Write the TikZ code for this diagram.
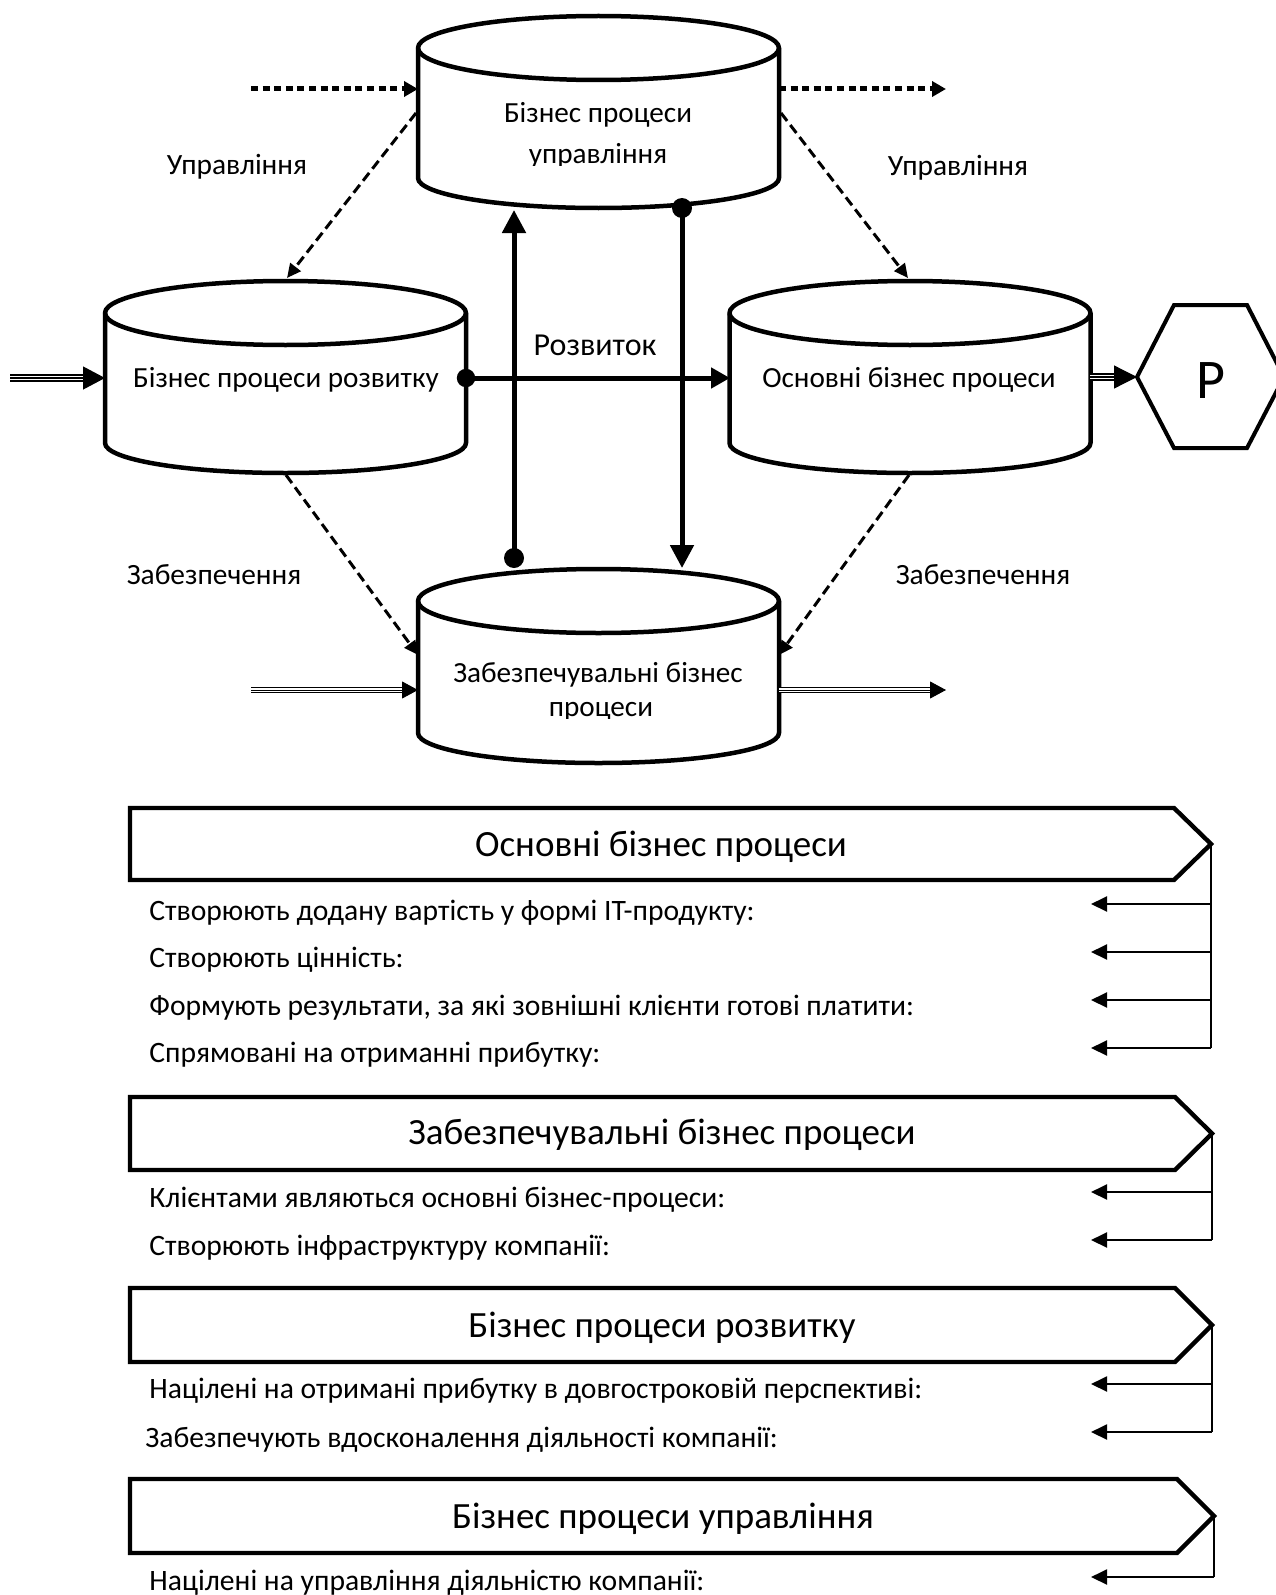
\documentclass[tikz,border=0pt]{standalone}
\usepackage{fontspec}
\setmainfont{Carlito}
\usetikzlibrary{arrows.meta}
\newcommand\cylshape[3]{%
  \filldraw[cyl] ({#1-180.5},#3) -- ({#1-180.5},#2) arc[start angle=180,end angle=0,x radius=90.25pt,y radius=16pt] -- ({#1+180.5},#3) arc[start angle=0,end angle=-180,x radius=90.25pt,y radius=15pt] -- cycle;
  \draw[cyl,fill=none] ({#1-180.5},#2) arc[start angle=180,end angle=360,x radius=90.25pt,y radius=16pt];
}
\newcommand\bannershape[4]{% name, top, bottom, tipx
  \draw[bannerline] (130,#2) -- ({#4-37},#2) -- (#4,{(#2+#3)/2}) -- ({#4-37},#3) -- (130,#3) -- cycle;
  \coordinate (#1tip) at (#4,{(#2+#3)/2});
}
\newcommand\itemarrow[3]{% name, y, tipx
  \coordinate (#1s) at (#3,#2);
  \coordinate (#1e) at (1091,#2);
  \draw[itemarr] (#1s) -- (#1e);
}
\begin{document}
\begin{tikzpicture}[x=0.5pt,y=-0.5pt,
  cyl/.style={draw=black, fill=white, line width=2.25pt, line join=round},
  cyltext/.style={font=\fontsize{14.6}{17}\selectfont, anchor=base, inner sep=0pt},
  lbl/.style={font=\fontsize{14.7}{17}\selectfont, anchor=base, inner sep=0pt},
  titletext/.style={font=\fontsize{18.5}{21}\selectfont, anchor=base, inner sep=0pt},
  itemtext/.style={font=\fontsize{14.8}{17}\selectfont, anchor=base west, inner sep=0pt},
  dotline/.style={line width=2.5pt, dash pattern=on 3.5pt off 2.3pt, -{Triangle[length=7pt,width=7.5pt]}},
  dashline/.style={line width=1.5pt, dash pattern=on 5pt off 2.6pt, -{Triangle[length=7pt,width=6.5pt]}},
  thickline/.style={line width=2.5pt},
  triouter/.style={double=white, double distance=2.4pt, line width=0.6pt},
  tricenter/.style={line width=0.6pt},
  thinouter/.style={double=white, double distance=1.8pt, line width=0.5pt},
  thincenter/.style={line width=0.45pt},
  bannerline/.style={draw=black, line width=2.2pt, line join=miter},
  itemarr/.style={line width=1pt, -{Triangle[length=8pt,width=7.5pt]}},
  vline/.style={line width=0.65pt},
  hexline/.style={draw=black, line width=2pt, line join=miter},
  dotmark/.style={fill=black}
]
\useasboundingbox (0,0) rectangle (1275,1595);
\fill[white] (0,0) rectangle (1275,1595);

% ---------- cylinders ----------
\cylshape{598.5}{48}{178}
\cylshape{285.5}{313}{443}
\cylshape{910}{313}{443}
\cylshape{598.5}{601}{733}

\node[cyltext] (Tt1) at (598,123) {Бізнес процеси};
\begin{scope}
  \clip (420,130) rectangle (777,165);
  \node[cyltext] (Tt2) at (598,163) {управління};
\end{scope}
\node[cyltext] (Lt) at (286,387) {Бізнес процеси розвитку};
\node[cyltext] (Rt) at (909,387) {Основні бізнес процеси};
\node[cyltext] (Bt1) at (598,682) {Забезпечувальні бізнес};
\begin{scope}
  \clip (420,690) rectangle (777,718);
  \node[cyltext] (Bt2) at (601,716) {процеси};
\end{scope}

% ---------- labels ----------
\node[lbl] (u1) at (237,175) {Управління};
\node[lbl] (u2) at (958,176) {Управління};
\node[lbl] (z1) at (214,584) {Забезпечення};
\node[lbl] (z2) at (983,584) {Забезпечення};
\node[lbl, font=\fontsize{16}{19}\selectfont] (rz) at (595,355) {Розвиток};

% ---------- hexagon ----------
\draw[hexline] (1137,377) -- (1174,305) -- (1247,305) -- (1284,377) -- (1247,448) -- (1174,448) -- cycle;
\coordinate (hexW) at (1137,377);
\node[font=\fontsize{28}{30}\selectfont, anchor=base, inner sep=0pt] (P) at (1211,398) {P};

% ---------- connection points ----------
\coordinate (dotLs) at (251,89);
\coordinate (Tw) at (418,89);
\coordinate (Te) at (779,89);
\coordinate (dotRe) at (946,89);
\coordinate (Twd) at (416,113);
\coordinate (Ted) at (781,113);
\coordinate (Ltop) at (287,278);
\coordinate (Rtop) at (908,278);
\coordinate (Lbot) at (286,475);
\coordinate (Rbot) at (909,475);
\coordinate (Bwd) at (418,655);
\coordinate (Bed) at (779,655);
\coordinate (Le) at (466,378);
\coordinate (Rw) at (730,378);
\coordinate (upS) at (514,558);
\coordinate (upE) at (514,210);
\coordinate (dnS) at (682,208);
\coordinate (dnE) at (682,568);
\coordinate (inL) at (10,378);
\coordinate (Lw) at (105,378);
\coordinate (Re) at (1090,377);
\coordinate (inB) at (251,690);
\coordinate (Bw) at (418,690);
\coordinate (Be) at (779,690);
\coordinate (outB) at (946,690);

% ---------- connectors ----------
\draw[dotline] (dotLs) -- (Tw);
\draw[dotline] (Te) -- (dotRe);
\draw[dashline] (Twd) -- (Ltop);
\draw[dashline] (Ted) -- (Rtop);
\draw[dashline] (Lbot) -- (Bwd);
\draw[dashline] (Rbot) -- (Bed);

\draw[thickline, -{Triangle[length=9.5pt,width=10pt]}] (Le) -- (Rw);
\draw[thickline, -{Triangle[length=11.5pt,width=11.5pt]}] (upS) -- (upE);
\draw[thickline, -{Triangle[length=11.5pt,width=11.5pt]}] (dnS) -- (dnE);
\fill[dotmark] (Le) circle (4.6pt);
\fill[dotmark] (upS) circle (5pt);
\fill[dotmark] (dnS) circle (5pt);

\draw[triouter, shorten >=10pt] (inL) -- (Lw);
\draw[tricenter, -{Triangle[length=11pt,width=11.5pt]}] (inL) -- (Lw);
\draw[triouter, shorten >=10pt] (Re) -- (hexW);
\draw[tricenter, -{Triangle[length=11.5pt,width=11.5pt]}] (Re) -- (hexW);
\draw[thinouter, shorten >=7pt] (inB) -- (Bw);
\draw[thincenter, -{Triangle[length=8pt,width=8.5pt]}] (inB) -- (Bw);
\draw[thinouter, shorten >=7pt] (Be) -- (outB);
\draw[thincenter, -{Triangle[length=8pt,width=8.5pt]}] (Be) -- (outB);

% ---------- banner 1 ----------
\bannershape{bA}{808}{880}{1211}
\node[titletext] (tA) at (661,856) {Основні бізнес процеси};
\itemarrow{aA1}{904}{1211}
\itemarrow{aA2}{952}{1211}
\itemarrow{aA3}{1000}{1211}
\itemarrow{aA4}{1048}{1211}
\draw[vline] (bAtip) -- (aA4s);
\node[itemtext] (iA1) at (149,920) {Створюють додану вартість у формі IT-продукту:};
\node[itemtext] (iA2) at (149,967) {Створюють цінність:};
\node[itemtext] (iA3) at (149,1015) {Формують результати, за які зовнішні клієнти готові платити:};
\node[itemtext] (iA4) at (149,1062) {Спрямовані на отриманні прибутку:};

% ---------- banner 2 ----------
\bannershape{bB}{1097}{1170}{1212}
\node[titletext] (tB) at (662,1144) {Забезпечувальні бізнес процеси};
\itemarrow{aB1}{1192}{1212}
\itemarrow{aB2}{1240}{1212}
\draw[vline] (bBtip) -- (aB2s);
\node[itemtext] (iB1) at (149,1207) {Клієнтами являються основні бізнес-процеси:};
\node[itemtext] (iB2) at (149,1255) {Створюють інфраструктуру компанії:};

% ---------- banner 3 ----------
\bannershape{bC}{1288}{1362}{1212}
\node[titletext] (tC) at (662,1337) {Бізнес процеси розвитку};
\itemarrow{aC1}{1384}{1212}
\itemarrow{aC2}{1432}{1212}
\draw[vline] (bCtip) -- (aC2s);
\node[itemtext] (iC1) at (149,1398) {Націлені на отримані прибутку в довгостроковій перспективі:};
\node[itemtext] (iC2) at (145,1447) {Забезпечують вдосконалення діяльності компанії:};

% ---------- banner 4 ----------
\bannershape{bD}{1479}{1553}{1214}
\node[titletext] (tD) at (663,1528) {Бізнес процеси управління};
\itemarrow{aD1}{1577}{1214}
\draw[vline] (bDtip) -- (aD1s);
\node[itemtext] (iD1) at (149,1590) {Націлені на управління діяльністю компанії:};
\end{tikzpicture}
\end{document}
